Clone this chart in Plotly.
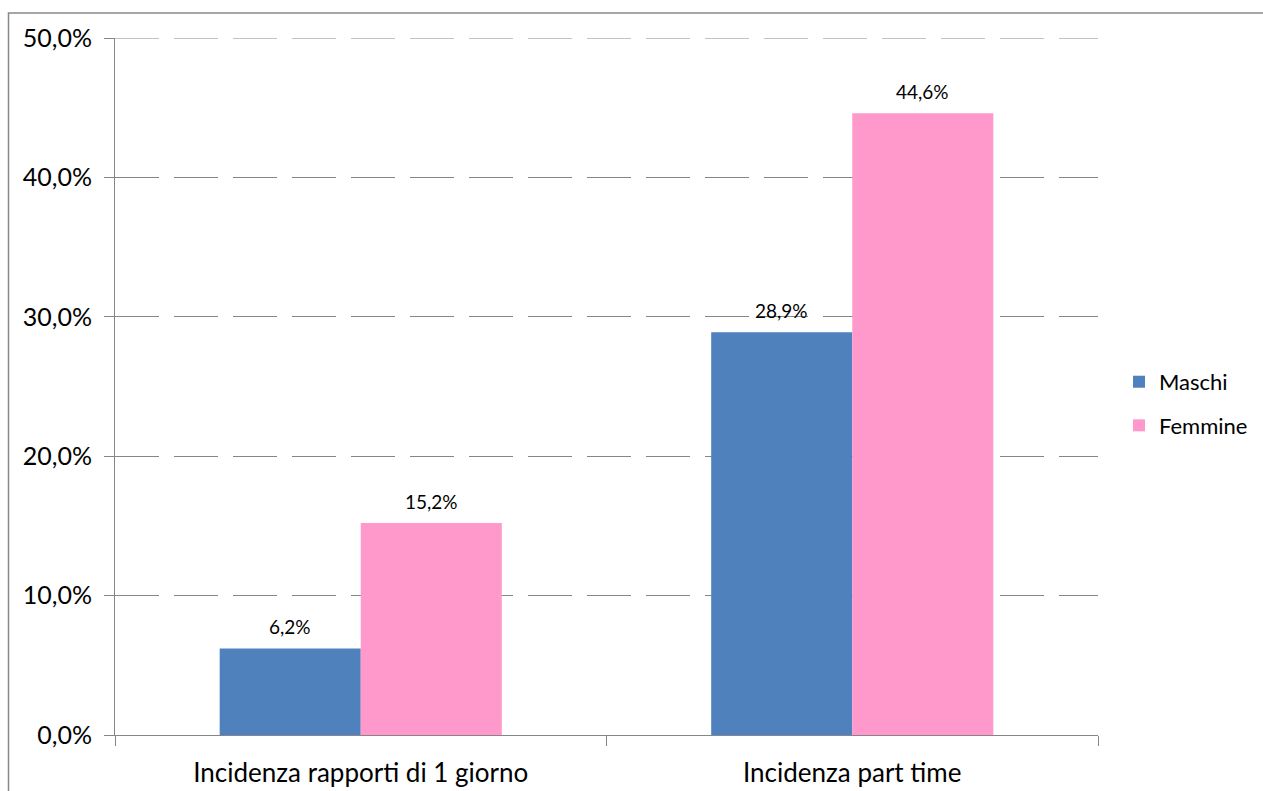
import plotly.graph_objects as go

categories = ["Incidenza rapporti di 1 giorno", "Incidenza part time"]
series_names = ["Maschi", "Femmine"]
maschi = [6.2, 28.9]
femmine = [15.2, 44.6]
y_ticks = [0, 10, 20, 30, 40, 50]

colors = {"Maschi": "#4F81BD", "Femmine": "#FF99CC"}
FONT = "Lato"
GRID = "#868686"
DASH = "44px,15px"

fig = go.Figure()
for name, vals in zip(series_names, [maschi, femmine]):
    fig.add_trace(go.Bar(
        x=categories, y=vals, name=name,
        marker=dict(color=colors[name], line=dict(width=0)),
        legendgroup=name,
        hoverinfo="skip",
    ))

def fmt(v):
    return f"{v:.1f}".replace(".", ",") + "%"

for shift, vals in zip([-70.5, 70.5], [maschi, femmine]):
    for c, v in zip(categories, vals):
        fig.add_annotation(x=c, y=v, xref="x", yref="y", text=fmt(v),
                           showarrow=False, xshift=shift, yshift=22,
                           yanchor="middle",
                           font=dict(family=FONT, size=19, color="#000000"))

W, H = 1263, 791
L, R, T, B = 115, 165, 38, 56
pw = W - L - R
ph = H - T - B

# chart outer border
fig.add_shape(type="rect", xref="paper", yref="paper",
              x0=(8.5 - L) / pw, x1=(W + 20 - L) / pw,
              y0=-(H + 20 - (H - B)) / ph, y1=((H - B) - 13) / ph,
              line=dict(color="#898989", width=1.5), fillcolor="rgba(0,0,0,0)",
              layer="below")

# top gridline (plotly skips the gridline on the range edge)
fig.add_shape(type="line", xref="paper", yref="y", x0=0, x1=1,
              y0=y_ticks[-1], y1=y_ticks[-1],
              line=dict(color=GRID, width=1, dash=DASH), layer="below")

fig.update_layout(
    width=W, height=H,
    margin=dict(l=L, r=R, t=T, b=B, pad=0, autoexpand=False),
    paper_bgcolor="white", plot_bgcolor="white",
    separators=",.",
    barmode="group", bargap=0.426, bargroupgap=0,
    font=dict(family=FONT, color="#000000"),
    showlegend=True,
    legend=dict(x=(1119 - L) / pw, xanchor="left", y=0.475, yanchor="middle",
                font=dict(family=FONT, size=22, color="#000000"),
                traceorder="grouped", tracegroupgap=12,
                bgcolor="rgba(0,0,0,0)"),
)
fig.update_yaxes(range=[0, 50], tickvals=y_ticks,
                 ticktext=[fmt(v) for v in y_ticks],
                 showgrid=True, gridcolor=GRID, gridwidth=1, griddash=DASH,
                 showline=True, linecolor=GRID, linewidth=1,
                 ticks="outside", ticklen=10, tickcolor=GRID, tickwidth=1,
                 ticklabelstandoff=7, automargin=False,
                 tickfont=dict(family=FONT, size=25, color="#000000"),
                 zeroline=False, fixedrange=True)
fig.update_xaxes(showline=True, linecolor=GRID, linewidth=1,
                 ticks="outside", tickson="boundaries", ticklen=10,
                 tickcolor=GRID, tickwidth=1, showgrid=False,
                 ticklabelstandoff=15, automargin=False,
                 tickfont=dict(family=FONT, size=26, color="#000000"),
                 fixedrange=True)

fig.write_html("out.html")
